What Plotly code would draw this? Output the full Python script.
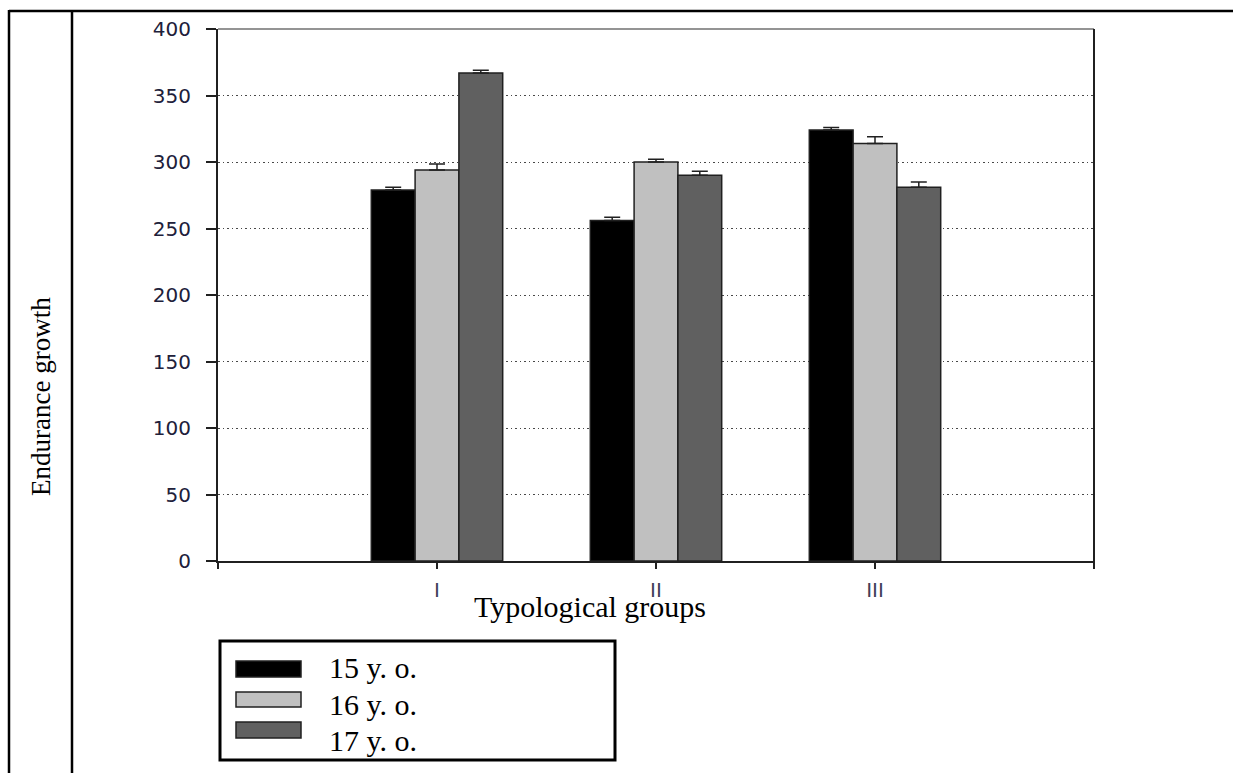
import plotly.graph_objects as go

# ---- data ----
categories = ["I", "II", "III"]
series_names = ["15 y. o.", "16 y. o.", "17 y. o."]
values_15 = [279, 256, 324]
values_16 = [294, 300, 314]
values_17 = [367, 290, 281]
err_15 = [2, 2.5, 2]
err_16 = [4.5, 2, 5]
err_17 = [2, 3, 4]
y_ticks = [0, 50, 100, 150, 200, 250, 300, 350, 400]

# body margin is removed in the page, so the figure fills the whole window
OFF = 0
W, H = 1233, 773
colors = ["#000000", "#c0c0c0", "#606060"]
SERIF = "Liberation Serif, Times New Roman"


def px(x):
    """screen x (window pixels) -> paper fraction"""
    return (x - OFF) / W


def py(y):
    """screen y (window pixels) -> paper fraction"""
    return 1 - (y - OFF) / H


fig = go.Figure()
xs = list(range(len(categories)))
for name, vals, errs, col in zip(series_names, [values_15, values_16, values_17],
                                 [err_15, err_16, err_17], colors):
    fig.add_trace(go.Bar(
        x=xs, y=vals, name=name,
        marker=dict(color=col, line=dict(color="#202020", width=1.5)),
        error_y=dict(type="data", array=errs, symmetric=False, arrayminus=[0] * len(errs),
                     color="#202020", thickness=1.5, width=8),
        showlegend=False,
    ))

x_dom = [px(218), px(1094)]
y_dom = [py(561), py(29)]

fig.update_layout(
    width=W, height=H, autosize=False, showlegend=False,
    margin=dict(l=0, r=0, t=0, b=0, pad=0, autoexpand=False),
    paper_bgcolor="white", plot_bgcolor="white",
    barmode="group", bargap=0.4, bargroupgap=0,
    xaxis=dict(domain=x_dom, range=[-1, 3], tickmode="array", automargin=False,
               tickvals=[-1] + xs + [3], ticktext=[""] + categories + [""],
               ticks="outside", ticklen=6, tickwidth=2, tickcolor="#202020",
               showline=True, linecolor="#202020", linewidth=2,
               showgrid=False, zeroline=False, ticklabelstandoff=4,
               tickfont=dict(family="DejaVu Sans", size=20, color="#404058")),
    yaxis=dict(domain=y_dom, range=[0, 400], tickmode="array", tickvals=y_ticks,
               automargin=False,
               ticks="outside", ticklen=10, tickwidth=2, tickcolor="#202020",
               showline=True, linecolor="#202020", linewidth=2,
               showgrid=True, gridcolor="#484848", gridwidth=1.4, griddash="1.5px,3px",
               zeroline=False, ticklabelstandoff=11,
               tickfont=dict(family="DejaVu Sans", size=20, color="#20203a")),
    font=dict(family=SERIF),
)

shapes = []
# plot frame (top gray line and right dark line)
shapes.append(dict(type="line", xref="paper", yref="paper", x0=px(218), x1=px(1094),
                   y0=py(29), y1=py(29), line=dict(color="#707070", width=1.5)))
shapes.append(dict(type="line", xref="paper", yref="paper", x0=px(1094), x1=px(1094),
                   y0=py(29), y1=py(567), line=dict(color="#202020", width=2)))
# table borders
shapes.append(dict(type="line", xref="paper", yref="paper", x0=px(9), x1=1,
                   y0=py(11), y1=py(11), line=dict(color="black", width=2.5)))
shapes.append(dict(type="line", xref="paper", yref="paper", x0=px(9), x1=px(9),
                   y0=py(10), y1=0, line=dict(color="black", width=2.5)))
shapes.append(dict(type="line", xref="paper", yref="paper", x0=px(72), x1=px(72),
                   y0=py(11), y1=0, line=dict(color="black", width=2.5)))
# legend box
shapes.append(dict(type="rect", xref="paper", yref="paper", x0=px(220), x1=px(615),
                   y0=py(760), y1=py(641), line=dict(color="black", width=3),
                   fillcolor="rgba(0,0,0,0)"))
annotations = []
swatch_y = [(661, 677), (692, 707), (722, 738)]
text_y = [667, 704, 740]
for name, col, (sy0, sy1), ty in zip(series_names, colors, swatch_y, text_y):
    shapes.append(dict(type="rect", xref="paper", yref="paper", x0=px(236), x1=px(301),
                       y0=py(sy1), y1=py(sy0), fillcolor=col,
                       line=dict(color="#202020", width=1.5)))
    annotations.append(dict(text=name, xref="paper", yref="paper", x=px(327), y=py(ty),
                            xanchor="left", yanchor="middle", showarrow=False,
                            font=dict(family=SERIF, size=30, color="black")))

annotations.append(dict(text="Typological groups", xref="paper", yref="paper",
                        x=px(590), y=py(606), xanchor="center", yanchor="middle",
                        showarrow=False,
                        font=dict(family=SERIF, size=30, color="black")))
annotations.append(dict(text="Endurance growth", xref="paper", yref="paper",
                        x=px(41), y=py(397), xanchor="center", yanchor="middle",
                        textangle=-90, showarrow=False,
                        font=dict(family=SERIF, size=27, color="black")))

fig.update_layout(shapes=shapes, annotations=annotations)

fig.write_html("out.html", config={"displayModeBar": False, "responsive": False},
               post_script="document.body.style.margin='0';"
                           "document.documentElement.style.overflow='hidden';")
